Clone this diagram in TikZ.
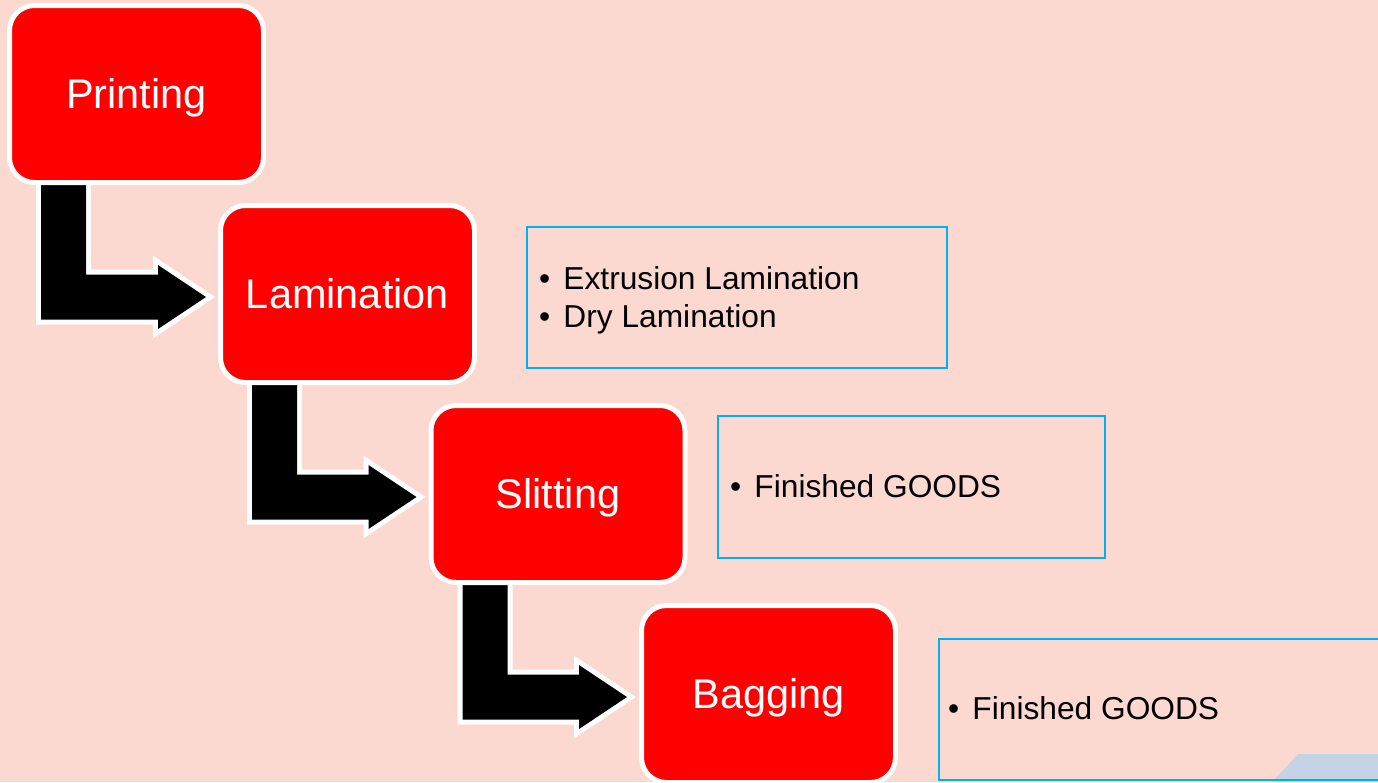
\documentclass[tikz,border=0pt]{standalone}
\usepackage{fontspec}
\setmainfont{Liberation Sans}
\usetikzlibrary{calc}

\definecolor{slide}{RGB}{252,217,208}
\definecolor{stepred}{RGB}{255,0,0}
\definecolor{notecyan}{RGB}{0,176,240}
\definecolor{cornerblue}{RGB}{197,211,230}

\pgfdeclarelayer{backdrop}
\pgfdeclarelayer{arrowlayer}
\pgfsetlayers{backdrop,arrowlayer,main}

\tikzset{
  stepbox/.style={rectangle, rounded corners=25pt, fill=stepred, draw=white,
    line width=5pt, minimum width=254pt, minimum height=177pt, inner sep=0pt,
    outer sep=0pt, text=white, text height=37.6pt, text depth=8.8pt,
    font=\fontsize{41.5}{50}\selectfont},
  notebox/.style={rectangle, draw=notecyan, line width=2pt, inner sep=0pt, outer sep=0pt},
  notetext/.style={anchor=base west, inner sep=0pt, outer sep=0pt, text=black,
    font=\fontsize{31.7}{38}\selectfont},
  bentarrow/.style={fill=black, line join=miter,
    preaction={draw=white, line width=10pt, line join=miter}},
}

% bullet followed by its item text
\newcommand\bullitem[1]{\makebox[24.5pt][l]{\char"2022}#1}

% L-shaped block arrow from the bottom of one step to the left side of the next
\newcommand\stepflow[2]{%
  \begin{pgfonlayer}{arrowlayer}
    \path[bentarrow] let \p1=(#1.south west), \p2=(#2.west) in
      (\x1+31.5pt,\y1+2pt) -- (\x1+76.5pt,\y1+2pt) -- (\x1+76.5pt,\y2+19.5pt)
      -- (\x2-62.5pt,\y2+19.5pt) -- (\x2-62.5pt,\y2+29pt) -- (\x2-14.5pt,\y2-3pt)
      -- (\x2-62.5pt,\y2-35pt) -- (\x2-62.5pt,\y2-25.5pt) -- (\x1+31.5pt,\y2-25.5pt)
      -- cycle;
  \end{pgfonlayer}}

\begin{document}
\begin{tikzpicture}[x=1pt, y=-1pt]
  \useasboundingbox (0,0) rectangle (1378,782);
  \clip (0,0) rectangle (1378,782);

  \begin{pgfonlayer}{backdrop}
    \fill[slide] (0,0) rectangle (1378,782);
    \fill[cornerblue] (1272,782) -- (1298,754) -- (1378,754) -- (1378,782) -- cycle;
  \end{pgfonlayer}

  % process steps
  \node[stepbox] (printing)   at (136.5,94)  {Printing};
  \node[stepbox] (lamination) at (347.5,294) {Lamination};
  \node[stepbox] (slitting)   at (558,494)   {Slitting};
  \node[stepbox] (bagging)    at (768.5,694) {Bagging};

  % flow arrows
  \stepflow{printing}{lamination}
  \stepflow{lamination}{slitting}
  \stepflow{slitting}{bagging}

  % notes beside the steps
  \node[notebox, minimum width=420pt, minimum height=141pt] (lamnote) at (737,297.5) {};
  \node[notetext] (lamA) at ($(lamnote.north west)+(12,62)$)  {\bullitem{Extrusion Lamination}};
  \node[notetext] (lamB) at ($(lamnote.north west)+(12,100)$) {\bullitem{Dry Lamination}};

  \node[notebox, minimum width=387pt, minimum height=142pt] (slitnote) at (911.5,487) {};
  \node[notetext] (slitA) at ($(slitnote.north west)+(12,81)$) {\bullitem{Finished GOODS}};

  \node[notebox, minimum width=451pt, minimum height=141pt] (bagnote) at (1164.5,709.5) {};
  \node[notetext] (bagA) at ($(bagnote.north west)+(9,80)$) {\bullitem{Finished GOODS}};
\end{tikzpicture}
\end{document}
